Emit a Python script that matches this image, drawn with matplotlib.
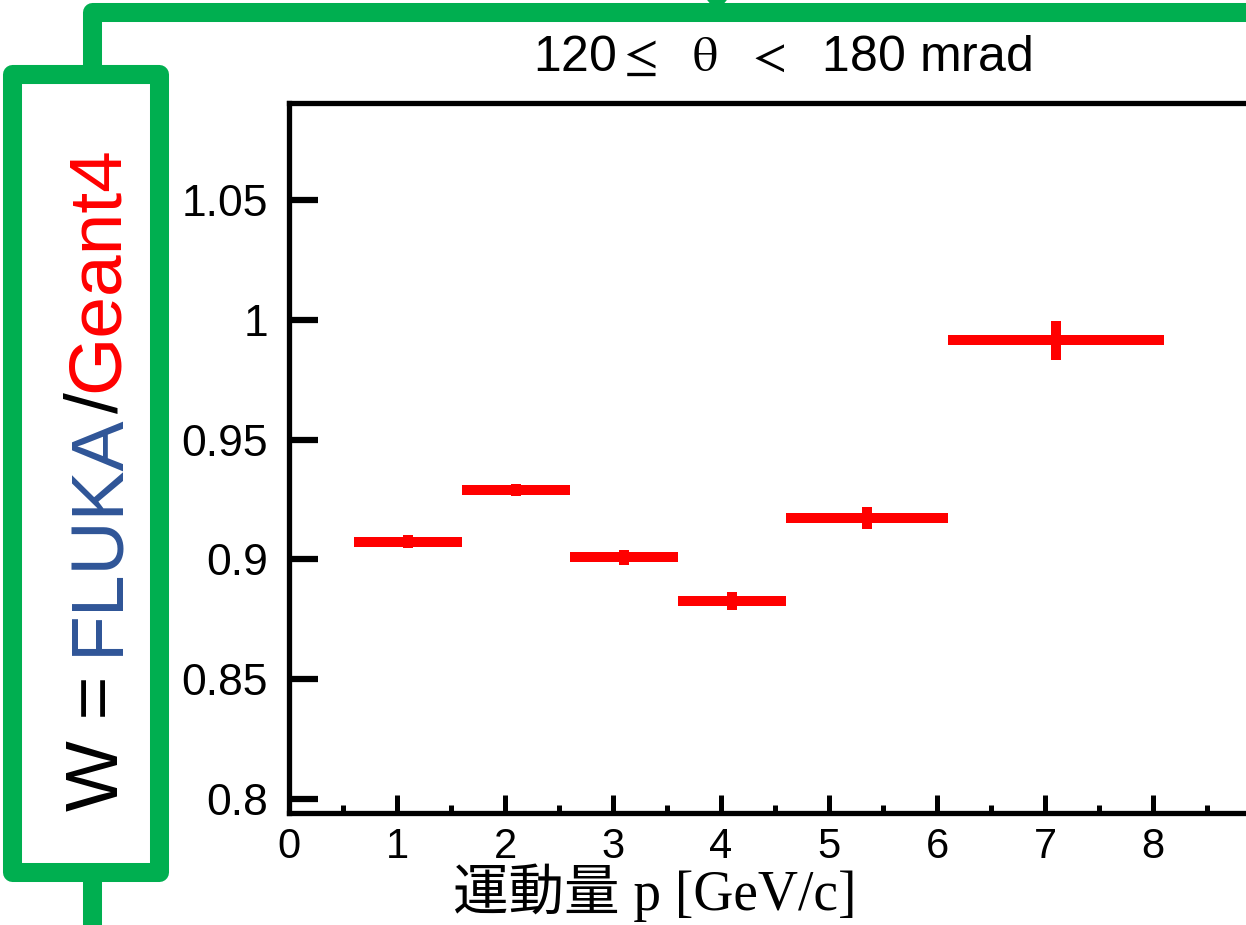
import matplotlib.pyplot as plt

plt.rcParams['mathtext.fontset'] = 'stix'

# Data: W = FLUKA/Geant4 ratio in momentum bins, 120 <= theta < 180 mrad
p_low = [0.6, 1.6, 2.6, 3.6, 4.6, 6.1]
p_high = [1.6, 2.6, 3.6, 4.6, 6.1, 8.1]
p_center = [1.1, 2.1, 3.1, 4.1, 5.35, 7.1]
w_ratio = [0.9075, 0.9290, 0.9010, 0.8827, 0.9174, 0.9915]
w_err = [0.0028, 0.0026, 0.0031, 0.0036, 0.0047, 0.0081]

xtick_vals = [0, 1, 2, 3, 4, 5, 6, 7, 8]
xminor_vals = [0.5, 1.5, 2.5, 3.5, 4.5, 5.5, 6.5, 7.5, 8.5]
ytick_vals = [0.8, 0.85, 0.9, 0.95, 1.0, 1.05]
ytick_labels = ['0.8', '0.85', '0.9', '0.95', '1', '1.05']

green = '#00AF50'
blue = '#2F5597'
sans = ['Liberation Sans', 'DejaVu Sans']
narrow = ['Liberation Sans Narrow', 'Liberation Sans', 'DejaVu Sans']

W, H = 1246, 925
fig = plt.figure(figsize=(W / 100, H / 100), dpi=100)

# background layer in pixel coordinates for the green frame
bg = fig.add_axes([0, 0, 1, 1], zorder=0)
bg.set_xlim(0, W)
bg.set_ylim(H, 0)
bg.axis('off')
lw_green = 13.7
bg.plot([11.5, 158.5, 158.5, 11.5, 11.5, 158.5], [74, 74, 872, 872, 74, 74],
        color=green, lw=lw_green, solid_joinstyle='round', solid_capstyle='butt')
bg.plot([91.5, 91.5, W + 20], [74, 12, 12], color=green, lw=lw_green,
        solid_joinstyle='round', solid_capstyle='butt')
bg.plot([91.5, 91.5], [872, H + 20], color=green, lw=lw_green, solid_capstyle='butt')
bg.fill([703, 731, 717], [-5, -5, 12], color=green, lw=0)

# main axes (right edge runs past the figure, as in the cropped original)
ax = fig.add_axes([289 / W, 1 - 813 / H, 972 / W, (813 - 103) / H], zorder=1)
ax.patch.set_alpha(0)
ax.errorbar(p_center, w_ratio,
            xerr=[[c - lo for c, lo in zip(p_center, p_low)],
                  [hi - c for c, hi in zip(p_center, p_high)]],
            yerr=w_err, fmt='none', ecolor='red', elinewidth=7.2, capsize=0)

ax.set_xticks(xtick_vals)
ax.set_xticklabels([str(v) for v in xtick_vals])
ax.set_xticks(xminor_vals, minor=True)
ax.set_yticks(ytick_vals)
ax.set_yticklabels(ytick_labels)
ax.set_xlim(0, 9)
ax.set_ylim(0.7942, 1.0905)

for s in ax.spines.values():
    s.set_linewidth(3.8)
ax.spines['right'].set_visible(False)

ax.tick_params(axis='both', which='both', direction='in', top=False, right=False)
ax.tick_params(axis='x', which='major', length=13, width=3.6, pad=10, labelsize=30)
ax.tick_params(axis='x', which='minor', length=6, width=3.6)
ax.tick_params(axis='y', which='major', length=21, width=4.5, pad=15, labelsize=32)
ax.tick_params(axis='y', which='minor', left=False)
for lbl in ax.get_xticklabels():
    lbl.set_family(narrow)
for lbl in ax.get_yticklabels():
    lbl.set_family(sans)

# title above the frame
fig.text(783 / W, 1 - 58 / H, r'120$\leq$  $\mathrm{\theta}$  $<$  180 mrad',
         ha='center', va='center', fontsize=36, family=narrow)

# x label
fig.text(655 / W, 1 - 910 / H, '運動量 p [GeV/c]', ha='center', va='baseline',
         fontsize=40, family=['Liberation Serif', 'Noto Sans CJK JP'])

# rotated, multi-coloured y label laid out piece by piece
pieces = [('W = ', 'black'), ('FLUKA', blue), ('/', 'black'), ('Geant4', 'red')]
renderer = fig.canvas.get_renderer()


def text_len(s):
    t = fig.text(0, 0, s, fontsize=54, family=sans)
    n = t.get_window_extent(renderer).width
    t.remove()
    return n


prefix = ''
for txt, col in pieces:
    offset = text_len(prefix + txt) - text_len(txt)
    fig.text(118 / W, (H - 811 + offset) / H, txt, color=col, fontsize=54,
             family=sans, rotation=90, rotation_mode='anchor',
             ha='left', va='baseline')
    prefix += txt

fig.savefig('out.png', dpi=100)
